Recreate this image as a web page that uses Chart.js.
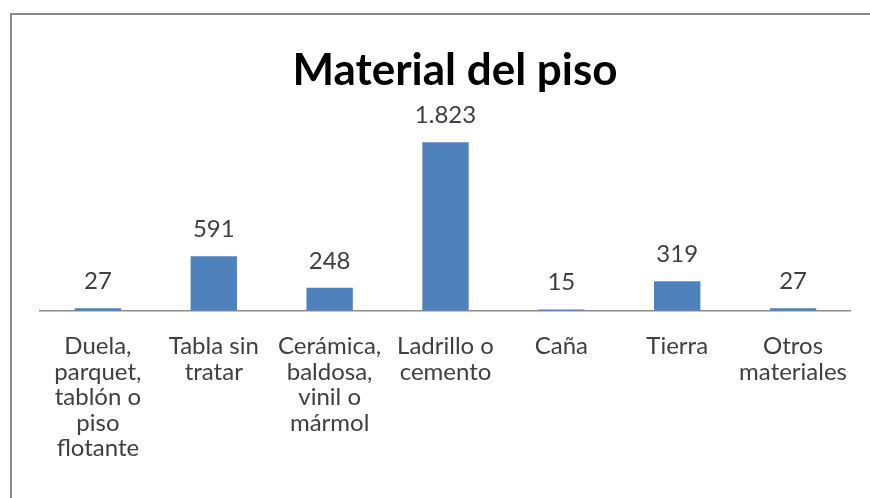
<!DOCTYPE html>
<html>
<head>
<meta charset="utf-8">
<script src="https://cdn.jsdelivr.net/npm/chart.js@4"></script>
<style>
  html, body { margin: 0; padding: 0; background: #fff; overflow: hidden; }
  #wrap { position: absolute; left: 0; top: 0; width: 870px; height: 498px; overflow: hidden; }
  #frame { position: absolute; left: 10px; top: 13px; width: 1000px; height: 700px;
           border-top: 2px solid #8c8c8c; border-left: 2px solid #8c8c8c; pointer-events: none; }
</style>
</head>
<body>
<div id="wrap">
  <canvas id="myChart" width="870" height="498"></canvas>
  <div id="frame"></div>
</div>
<script>
// data
var categories = [
  ["Duela,", "parquet,", "tablón o", "piso", "flotante"],
  ["Tabla sin", "tratar"],
  ["Cerámica,", "baldosa,", "vinil o", "mármol"],
  ["Ladrillo o", "cemento"],
  ["Caña"],
  ["Tierra"],
  ["Otros", "materiales"]
];
var values = [27, 591, 248, 1823, 15, 319, 27];
var chartTitle = "Material del piso";

var fontName = "Lato, 'Open Sans', sans-serif";

function fmt(n) { // 1823 -> 1.823
  return String(n).replace(/\B(?=(\d{3})+(?!\d))/g, ".");
}

// draws the value above each bar
var valueLabels = {
  id: "valueLabels",
  afterDatasetsDraw: function(chart) {
    var c = chart.ctx;
    var meta = chart.getDatasetMeta(0);
    c.save();
    c.fillStyle = "#404040";
    c.font = "24px " + fontName;
    c.textAlign = "center";
    c.textBaseline = "middle";
    meta.data.forEach(function(bar, i) {
      c.fillText(fmt(values[i]), bar.x, bar.y - 27);
    });
    c.restore();
  }
};

var ctx = document.getElementById("myChart").getContext("2d");
var myChart = new Chart(ctx, {
  type: "bar",
  data: {
    labels: categories,
    datasets: [{
      data: values,
      backgroundColor: "#4F81BD",
      borderWidth: 0,
      barPercentage: 0.4,
      categoryPercentage: 1
    }]
  },
  options: {
    responsive: false,
    animation: false,
    layout: { padding: { left: 40, right: 0, top: 0, bottom: 14 } },
    plugins: {
      legend: { display: false },
      tooltip: { enabled: false },
      title: {
        display: true,
        text: chartTitle,
        color: "#000",
        font: { family: fontName, size: 44, weight: "bold" },
        padding: { top: 44, bottom: 29 }
      }
    },
    scales: {
      x: {
        grid: { display: true, drawOnChartArea: false, drawTicks: false },
        border: { display: true, color: "#8c8c8c", width: 1.5 },
        ticks: {
          color: "#404040",
          font: { family: fontName, size: 24, lineHeight: 1.06 },
          padding: 23,
          maxRotation: 0,
          autoSkip: false
        }
      },
      y: {
        display: false,
        min: 0,
        max: 2000
      }
    }
  },
  plugins: [valueLabels]
});
</script>
</body>
</html>
